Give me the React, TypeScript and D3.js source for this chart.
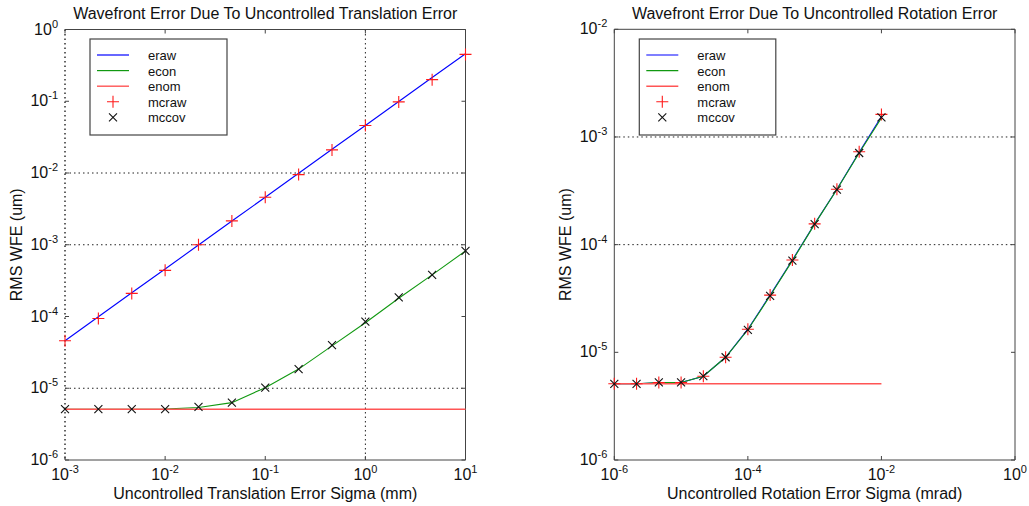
import * as d3 from 'd3';

// translation panel (left)
const transSigma = [1e-3, 2.154e-3, 4.642e-3, 1e-2, 2.154e-2, 4.642e-2, 0.1, 0.2154, 0.4642, 1, 2.154, 4.642, 10];
const transEraw = [4.6e-5, 9.9e-5, 2.14e-4, 4.6e-4, 9.9e-4, 2.14e-3, 4.6e-3, 9.9e-3, 2.14e-2, 4.6e-2, 9.9e-2, 0.214, 0.46];
const transEcon = [5.1e-6, 5.1e-6, 5.1e-6, 5.15e-6, 5.4e-6, 6.3e-6, 1.02e-5, 1.85e-5, 3.9e-5, 8.2e-5, 1.8e-4, 3.8e-4, 8.2e-4];
const transMcraw = [4.6e-5, 9.4e-5, 2.1e-4, 4.4e-4, 1.0e-3, 2.15e-3, 4.6e-3, 9.5e-3, 2.1e-2, 4.6e-2, 9.8e-2, 0.2, 0.45];
const transMccov = [5.1e-6, 5.1e-6, 5.1e-6, 5.1e-6, 5.5e-6, 6.3e-6, 1.02e-5, 1.85e-5, 4.0e-5, 8.5e-5, 1.85e-4, 3.8e-4, 8.2e-4];
const transEnom = 5.1e-6;

// rotation panel (right)
const rotSigma = [1e-6, 2.154e-6, 4.642e-6, 1e-5, 2.154e-5, 4.642e-5, 1e-4, 2.154e-4, 4.642e-4, 1e-3, 2.154e-3, 4.642e-3, 1e-2];
const rotEraw = [5.1e-6, 5.1e-6, 5.2e-6, 5.25e-6, 6.0e-6, 9.0e-6, 1.64e-5, 3.4e-5, 7.2e-5, 1.56e-4, 3.27e-4, 7.2e-4, 1.55e-3];
const rotEcon = [5.1e-6, 5.1e-6, 5.25e-6, 5.25e-6, 6.0e-6, 9.0e-6, 1.62e-5, 3.35e-5, 7.1e-5, 1.55e-4, 3.25e-4, 7.1e-4, 1.5e-3];
const rotMcraw = [5.1e-6, 5.1e-6, 5.25e-6, 5.25e-6, 6.0e-6, 9.0e-6, 1.64e-5, 3.4e-5, 7.2e-5, 1.56e-4, 3.27e-4, 7.3e-4, 1.62e-3];
const rotMccov = [5.1e-6, 5.1e-6, 5.25e-6, 5.25e-6, 6.0e-6, 9.0e-6, 1.62e-5, 3.35e-5, 7.1e-5, 1.55e-4, 3.25e-4, 7.1e-4, 1.52e-3];
const rotEnom = 5.1e-6;

const legendNames = ['eraw', 'econ', 'enom', 'mcraw', 'mccov'];

const FONT = '"Liberation Sans", Arial, sans-serif';
const BLUE = '#0000ff';
const GREEN = '#119911';
const RED_LINE = '#ff5555';
const RED = '#ff1a1a';
const AXIS = '#444';

type PanelProps = {
  title: string;
  xLabel: string;
  left: number; right: number; top: number; bottom: number;
  xDomain: [number, number];
  yDomain: [number, number];
  xs: number[];
  eraw: number[]; econ: number[]; mcraw: number[]; mccov: number[]; enom: number;
  hGrid: number[];
  vGrid: number[];
  dottedLeft: boolean;
  legendX: number; legendW: number;
};

const expOf = (v: number) => Math.round(Math.log10(v));

function TickLabel({ x, y, v, anchor }: { x: number; y: number; v: number; anchor: string }) {
  return (
    <text x={x} y={y} fontFamily={FONT} fontSize={16} fill="#111" textAnchor={anchor}>
      10<tspan fontSize={11} dy={-7}>{expOf(v)}</tspan>
    </text>
  );
}

function Panel(p: PanelProps) {
  const x = d3.scaleLog().domain(p.xDomain).range([p.left, p.right]);
  const y = d3.scaleLog().domain(p.yDomain).range([p.bottom, p.top]);
  const line = d3.line<[number, number]>().x(d => x(d[0])).y(d => y(d[1]));
  const xTicks: number[] = [];
  for (let e = expOf(p.xDomain[0]); e <= expOf(p.xDomain[1]); e += (p.xDomain[1] / p.xDomain[0] > 1e5 ? 2 : 1)) xTicks.push(Math.pow(10, e));
  const yTicks: number[] = [];
  for (let e = expOf(p.yDomain[0]); e <= expOf(p.yDomain[1]); e++) yTicks.push(Math.pow(10, e));
  const pts = (vals: number[]) => p.xs.map((xv, i) => [xv, vals[i]] as [number, number]);
  const cx = (p.left + p.right) / 2;
  const cy = (p.top + p.bottom) / 2;
  const lx = p.legendX;
  const ly = 39;
  const rowY = (i: number) => ly + 16 + i * 15.6;
  const dots = '1.5,3';
  return (
    <g>
      <text x={cx} y={19} textAnchor="middle" fontFamily={FONT} fontSize={16} fill="#111">{p.title}</text>
      <text x={cx} y={499} textAnchor="middle" fontFamily={FONT} fontSize={16} fill="#111">{p.xLabel}</text>
      <text transform={`translate(${p.left - 43},${cy}) rotate(-90)`} textAnchor="middle" fontFamily={FONT} fontSize={16} fill="#111">RMS WFE (um)</text>

      {p.hGrid.map(v => (
        <line key={'h' + v} x1={p.left} x2={p.right} y1={y(v)} y2={y(v)} stroke="#222" strokeDasharray={dots} />
      ))}
      {p.vGrid.map(v => (
        <line key={'v' + v} x1={x(v)} x2={x(v)} y1={p.top} y2={p.bottom} stroke="#222" strokeDasharray={dots} />
      ))}

      <line x1={p.left} x2={p.right} y1={p.top} y2={p.top} stroke={AXIS} />
      <line x1={p.left} x2={p.right} y1={p.bottom} y2={p.bottom} stroke={AXIS} />
      <line x1={p.right} x2={p.right} y1={p.top} y2={p.bottom} stroke={AXIS} />
      <line x1={p.left} x2={p.left} y1={p.top} y2={p.bottom} stroke={p.dottedLeft ? '#111' : AXIS}
        strokeDasharray={p.dottedLeft ? dots : undefined} strokeWidth={p.dottedLeft ? 1.3 : 1} />

      {xTicks.map(v => (
        <g key={'xt' + v}>
          <line x1={x(v)} x2={x(v)} y1={p.bottom} y2={p.bottom - 4} stroke={AXIS} />
          <line x1={x(v)} x2={x(v)} y1={p.top} y2={p.top + 4} stroke={AXIS} />
          <TickLabel x={x(v)} y={480} v={v} anchor="middle" />
        </g>
      ))}
      {yTicks.map(v => (
        <g key={'yt' + v}>
          <line x1={p.left} x2={p.left + 4} y1={y(v)} y2={y(v)} stroke={AXIS} />
          <line x1={p.right} x2={p.right - 4} y1={y(v)} y2={y(v)} stroke={AXIS} />
          <TickLabel x={p.left - 7} y={y(v) + 5} v={v} anchor="end" />
        </g>
      ))}

      <path d={line(pts(p.eraw)) ?? ''} fill="none" stroke={BLUE} strokeWidth={1.1} />
      <path d={line(pts(p.econ)) ?? ''} fill="none" stroke={GREEN} strokeWidth={1.1} />
      <line x1={x(p.xs[0])} x2={x(p.xs[p.xs.length - 1])} y1={y(p.enom)} y2={y(p.enom)} stroke={RED_LINE} strokeWidth={1.4} />

      {p.xs.map((xv, i) => (
        <path key={'p' + i} transform={`translate(${x(xv)},${y(p.mcraw[i])})`} d="M-6,0H6M0,-6V6" stroke={RED} strokeWidth={1.1} />
      ))}
      {p.xs.map((xv, i) => (
        <path key={'c' + i} transform={`translate(${x(xv)},${y(p.mccov[i])})`} d="M-4,-4L4,4M-4,4L4,-4" stroke="#111" strokeWidth={1.1} />
      ))}

      <rect x={lx} y={ly} width={p.legendW} height={96} fill="#fff" stroke={AXIS} strokeWidth={1.2} />
      {legendNames.map((n, i) => (
        <text key={n} x={lx + 58} y={rowY(i) + 5} fontFamily={FONT} fontSize={13} fill="#111">{n}</text>
      ))}
      <line x1={lx + 7} x2={lx + 39} y1={rowY(0)} y2={rowY(0)} stroke={BLUE} strokeWidth={1.2} />
      <line x1={lx + 7} x2={lx + 39} y1={rowY(1)} y2={rowY(1)} stroke={GREEN} strokeWidth={1.2} />
      <line x1={lx + 7} x2={lx + 39} y1={rowY(2)} y2={rowY(2)} stroke={RED_LINE} strokeWidth={1.4} />
      <path transform={`translate(${lx + 23},${rowY(3)})`} d="M-6,0H6M0,-6V6" stroke={RED} strokeWidth={1.1} />
      <path transform={`translate(${lx + 23},${rowY(4)})`} d="M-4,-4L4,4M-4,4L4,-4" stroke="#111" strokeWidth={1.1} />
    </g>
  );
}

export default function App() {
  return (
    <div style={{ position: 'fixed', left: 0, top: 0 }}>
      <svg width={1029} height={506} style={{ display: 'block', background: '#fff' }}>
        <Panel
          title="Wavefront Error Due To Uncontrolled Translation Error"
          xLabel="Uncontrolled Translation Error Sigma (mm)"
          left={65} right={465.5} top={29.5} bottom={460}
          xDomain={[1e-3, 1e1]} yDomain={[1e-6, 1]}
          xs={transSigma} eraw={transEraw} econ={transEcon} mcraw={transMcraw} mccov={transMccov} enom={transEnom}
          hGrid={[1e-2, 1e-3, 1e-5]} vGrid={[1]} dottedLeft={true}
          legendX={90} legendW={137}
        />
        <Panel
          title="Wavefront Error Due To Uncontrolled Rotation Error"
          xLabel="Uncontrolled Rotation Error Sigma (mrad)"
          left={614.3} right={1015} top={29.3} bottom={460}
          xDomain={[1e-6, 1]} yDomain={[1e-6, 1e-2]}
          xs={rotSigma} eraw={rotEraw} econ={rotEcon} mcraw={rotMcraw} mccov={rotMccov} enom={rotEnom}
          hGrid={[1e-3, 1e-4]} vGrid={[]} dottedLeft={false}
          legendX={639.3} legendW={136.5}
        />
      </svg>
    </div>
  );
}
